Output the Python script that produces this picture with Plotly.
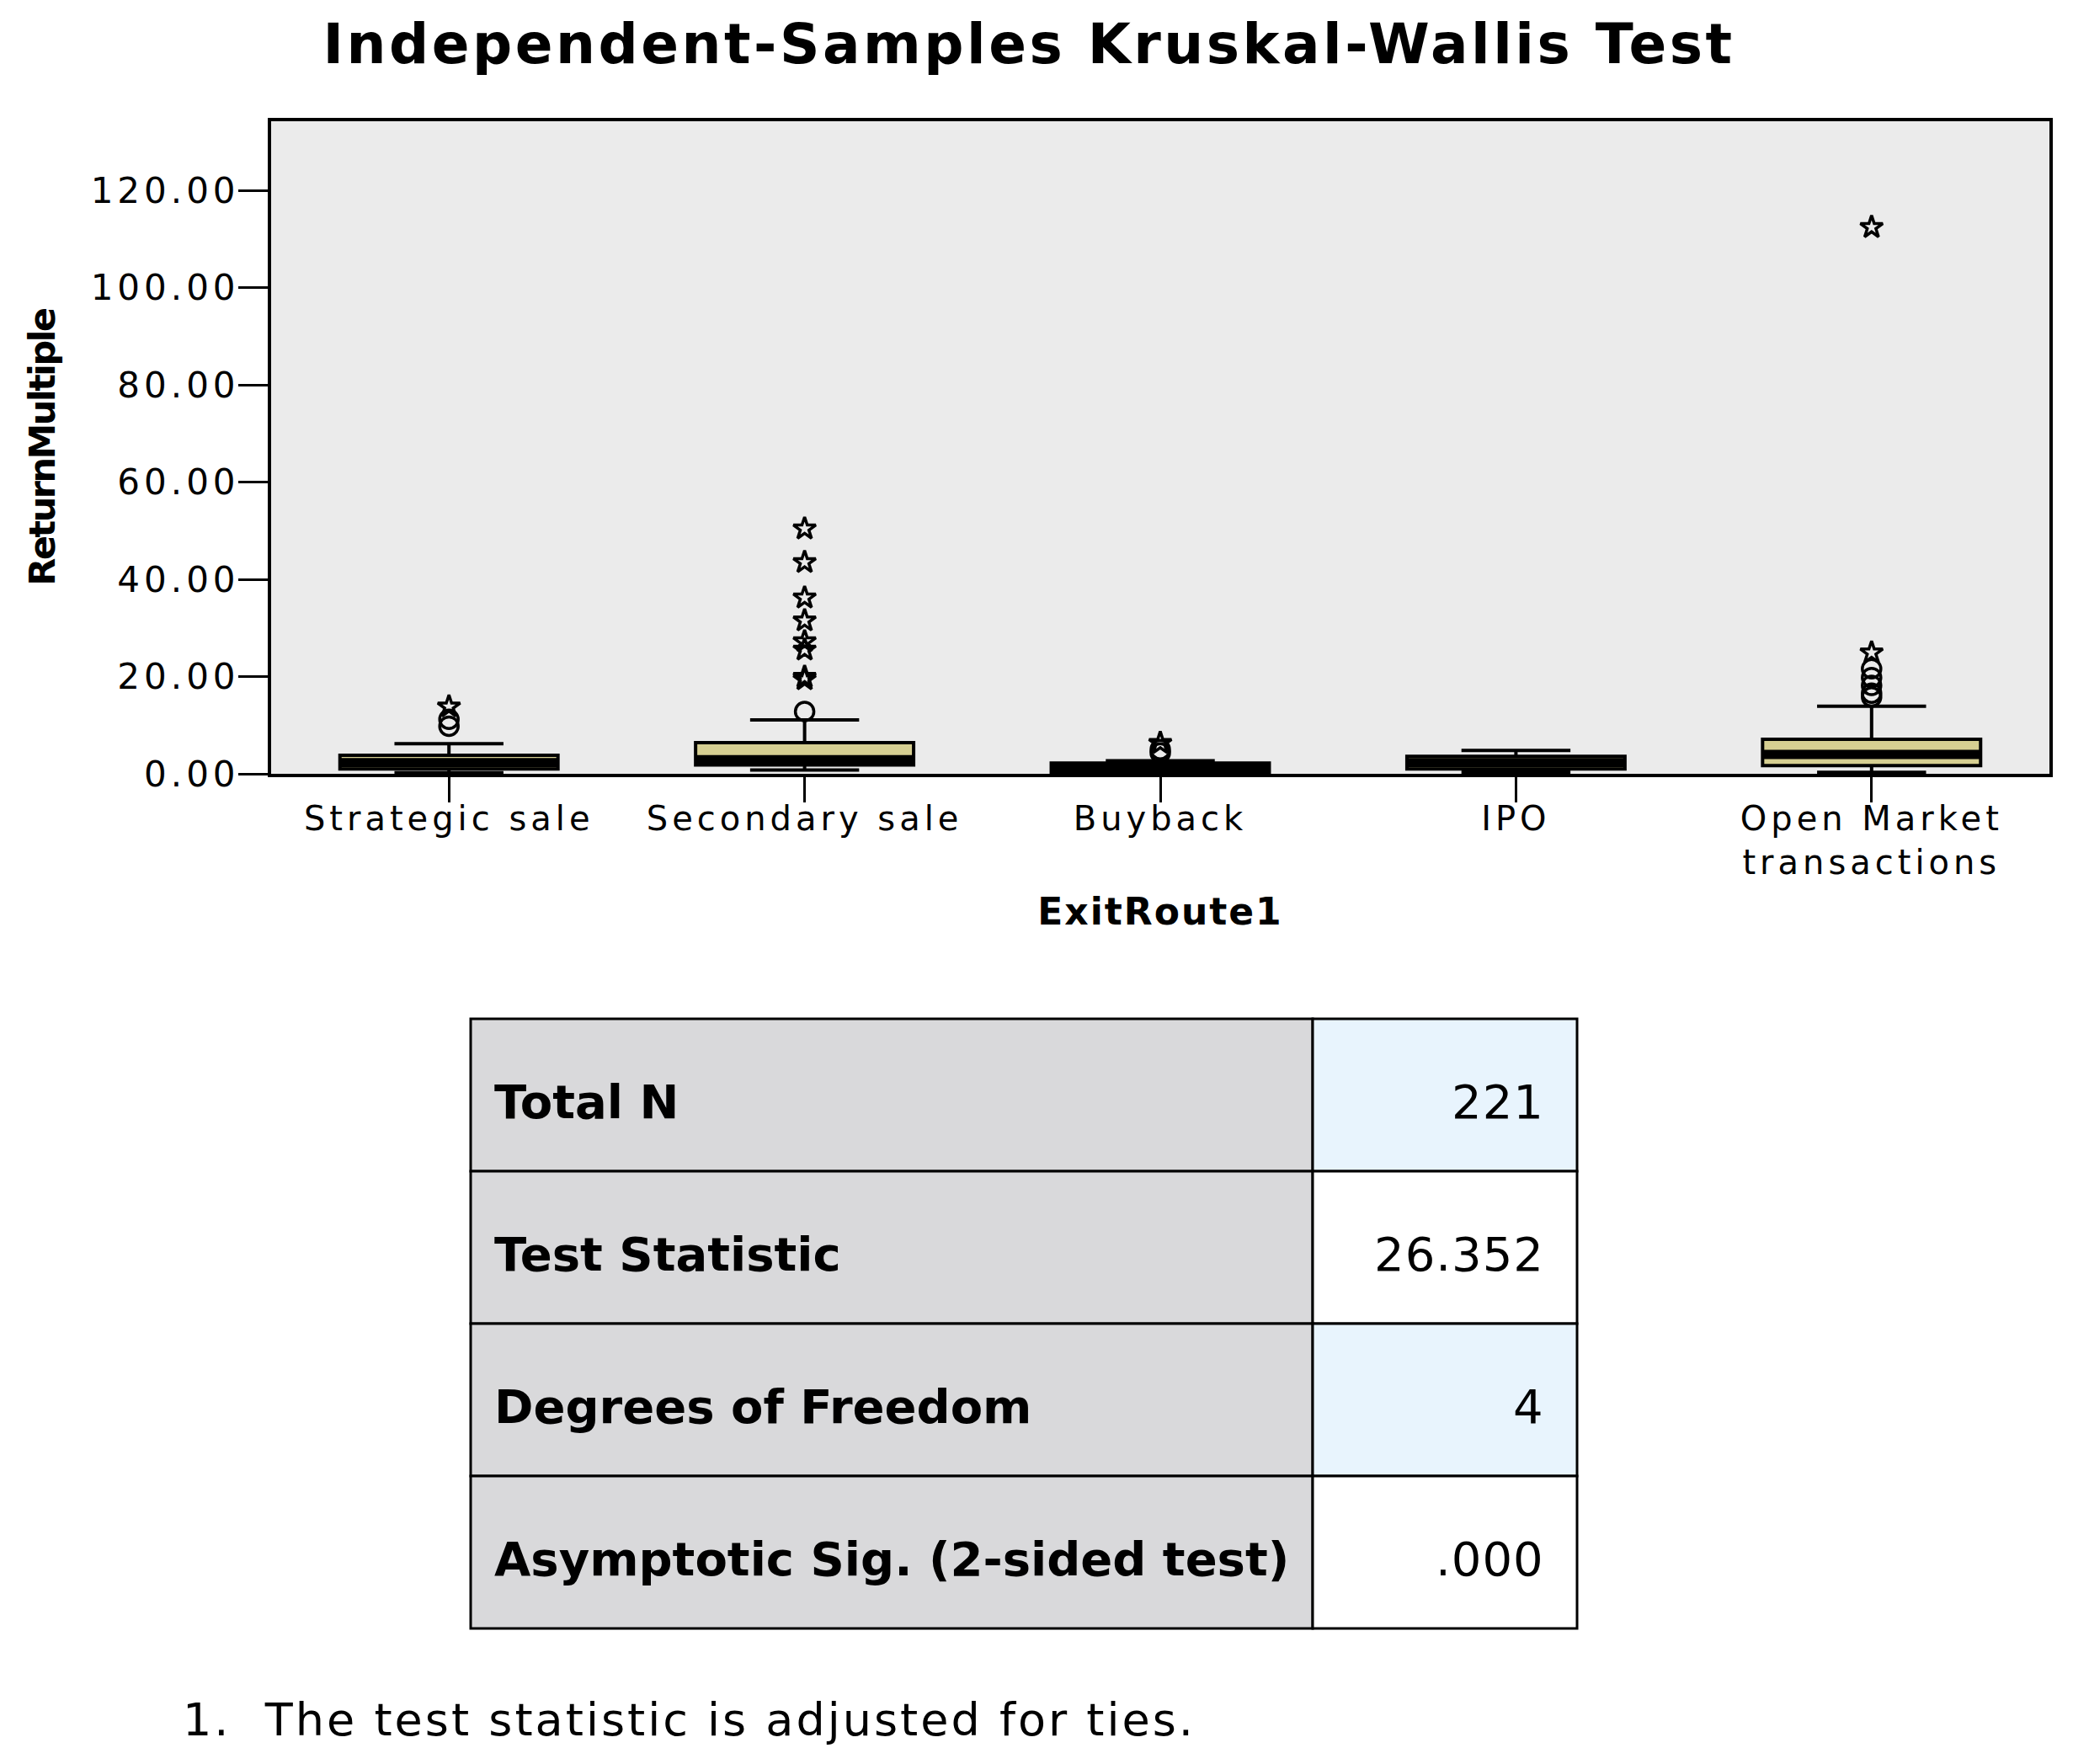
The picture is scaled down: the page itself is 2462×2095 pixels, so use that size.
import plotly.graph_objects as go

W, H = 2462, 2095
PAGE_MARGIN = 8  # default body margin of the html page

# box plot data (ReturnMultiple by ExitRoute1)
categories = ["Strategic sale", "Secondary sale", "Buyback", "IPO", "Open Market transactions"]
tick_labels = ["Strategic sale", "Secondary sale", "Buyback", "IPO", "Open Market<br>transactions"]

lower_fence = [0.2, 0.8, 0.0, 0.3, 0.3]
q1 = [1.0, 1.8, 0.3, 1.0, 1.7]
median = [2.3, 2.9, 1.1, 2.3, 4.0]
q3 = [3.8, 6.4, 2.2, 3.6, 7.1]
upper_fence = [6.2, 11.1, 2.7, 4.8, 13.9]

# outliers (circles) and extreme values (stars)
circle_x = ["Strategic sale", "Strategic sale", "Secondary sale", "Buyback", "Buyback",
            "Open Market transactions", "Open Market transactions", "Open Market transactions",
            "Open Market transactions", "Open Market transactions"]
circle_y = [9.8, 11.2, 12.8, 4.3, 5.0, 15.8, 16.6, 18.2, 19.8, 21.6]

star_x = ["Strategic sale",
          "Secondary sale", "Secondary sale", "Secondary sale", "Secondary sale",
          "Secondary sale", "Secondary sale", "Secondary sale", "Secondary sale",
          "Buyback", "Open Market transactions", "Open Market transactions"]
star_y = [13.8, 19.4, 19.9, 25.5, 27.2, 31.5, 36.2, 43.5, 50.4, 6.3, 24.9, 112.4]

y_ticks = [0, 20, 40, 60, 80, 100, 120]

# summary table
table_labels = ["Total N", "Test Statistic", "Degrees of Freedom", "Asymptotic Sig. (2-sided test)"]
table_values = ["221", "26.352", "4", ".000"]
value_fills = ["#e8f4fd", "#ffffff", "#e8f4fd", "#ffffff"]
footnote = "1.  The test statistic is adjusted for ties."

FW, FH = W - 2 * PAGE_MARGIN, H - 2 * PAGE_MARGIN


def spaced(text, px):
    # SPSS output has wide letter spacing
    return "<br>".join(f'<span style="letter-spacing:{px}px">{line}</span>'
                       for line in text.split("<br>"))


def px_x(x):
    return (x - PAGE_MARGIN) / FW


def px_y(y):
    return 1 - (y - PAGE_MARGIN) / FH


fig = go.Figure()

fig.add_trace(go.Box(
    x=categories, q1=q1, median=median, q3=q3,
    lowerfence=lower_fence, upperfence=upper_fence,
    fillcolor="#d6cf92", line=dict(color="black", width=4),
    width=0.613, whiskerwidth=0.5, boxpoints=False, hoverinfo="skip",
))

# thick SPSS-style median bar
fig.add_trace(go.Box(
    x=categories, q1=median, median=median, q3=median,
    lowerfence=median, upperfence=median,
    fillcolor="black", line=dict(color="black", width=11),
    width=0.613, whiskerwidth=0, boxpoints=False, hoverinfo="skip",
))

fig.add_trace(go.Scatter(
    x=circle_x, y=circle_y, mode="markers",
    marker=dict(symbol="circle-open", size=22, color="black", line=dict(width=3.5)),
    hoverinfo="skip",
))

fig.add_trace(go.Scatter(
    x=star_x, y=star_y, mode="markers",
    marker=dict(symbol="star-open", size=20, color="black", line=dict(width=3.5)),
    hoverinfo="skip",
))

# table cells
tab_left, tab_split, tab_right = 559, 1559, 1873
tab_top, row_h = 1210, 181
shapes = []
annotations = []
for i, (lab, val) in enumerate(zip(table_labels, table_values)):
    y0 = tab_top + i * row_h
    y1 = y0 + row_h
    shapes.append(dict(type="rect", xref="paper", yref="paper",
                       x0=px_x(tab_left), x1=px_x(tab_split), y0=px_y(y1), y1=px_y(y0),
                       fillcolor="#d9d9db", line=dict(color="black", width=3)))
    shapes.append(dict(type="rect", xref="paper", yref="paper",
                       x0=px_x(tab_split), x1=px_x(tab_right), y0=px_y(y1), y1=px_y(y0),
                       fillcolor=value_fills[i], line=dict(color="black", width=3)))
    yc = px_y((y0 + y1) / 2 + 8)
    annotations.append(dict(text=f"<b>{lab}</b>", x=px_x(585), y=yc, xref="paper", yref="paper",
                            xanchor="left", yanchor="middle", showarrow=False,
                            font=dict(size=56, color="black")))
    annotations.append(dict(text=spaced(val, 1), x=px_x(1836), y=yc, xref="paper", yref="paper",
                            xanchor="right", yanchor="middle", showarrow=False,
                            font=dict(size=56, color="black")))

annotations.append(dict(text=spaced(footnote, 3), x=px_x(215), y=px_y(2042),
                        xref="paper", yref="paper", xanchor="left", yanchor="middle",
                        showarrow=False, font=dict(size=54, color="black")))

fig.update_layout(
    width=FW, height=FH,
    margin=dict(l=0, r=0, t=0, b=0),
    paper_bgcolor="white",
    plot_bgcolor="#ebebeb",
    showlegend=False,
    font=dict(family="DejaVu Sans", color="black"),
    title=dict(text=spaced("<b>Independent-Samples Kruskal-Wallis Test</b>", 3.5),
               x=px_x(1222), xanchor="center", y=px_y(52), yanchor="middle",
               font=dict(size=66, color="black")),
    xaxis=dict(
        domain=[px_x(322), px_x(2434)], type="category", range=[-0.5, 4.5],
        tickmode="array", tickvals=categories,
        ticktext=[spaced(t, 5) for t in tick_labels],
        tickfont=dict(size=40), ticks="outside", ticklen=30, tickwidth=3, tickcolor="black",
        ticklabelstandoff=-15,
        showline=True, mirror=True, linewidth=4, linecolor="black",
        showgrid=False, zeroline=False, automargin=False,
        title=dict(text=spaced("<b>ExitRoute1</b>", 2), font=dict(size=44), standoff=22),
    ),
    yaxis=dict(
        domain=[px_y(919), px_y(144)], range=[0, 134.2],
        tickmode="array", tickvals=y_ticks,
        ticktext=[spaced(f"{v:.2f}", 5) for v in y_ticks],
        tickfont=dict(size=42), ticks="outside", ticklen=35, tickwidth=3, tickcolor="black",
        ticklabelstandoff=-10,
        showline=True, mirror=True, linewidth=4, linecolor="black",
        showgrid=False, zeroline=False, automargin=False,
        title=dict(text=spaced("<b>ReturnMultiple</b>", -2.5), font=dict(size=43), standoff=30),
    ),
    shapes=shapes,
    annotations=annotations,
)

fig.write_html("out.html")
